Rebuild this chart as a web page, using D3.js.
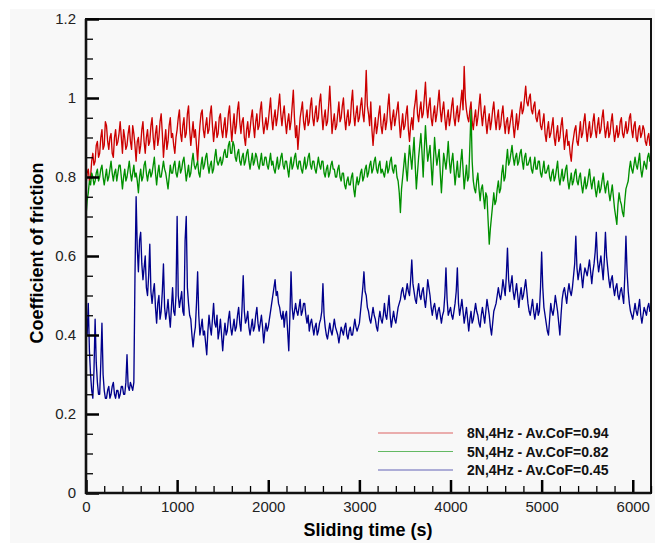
<!DOCTYPE html>
<html lang="en">
<head>
    <meta charset="UTF-8">
    <title>Coefficient of friction vs sliding time</title>
    <script src="https://d3js.org/d3.v7.min.js"></script>
    <style>
        body {
            margin: 0;
            padding: 0;
            background: #ffffff;
        }
        svg text {
            font-family: "Liberation Sans", Arial, sans-serif;
        }
    </style>
</head>
<body>
<svg id="chart" width="655" height="543"></svg>

<script>
    // test length (s); samples are evenly spaced over it
    var testDuration = 6200;

    // 8N, 4Hz
    var cofRed = [
        0.78, 0.81, 0.82, 0.79, 0.80, 0.84, 0.86, 0.83, 0.84, 0.88, 0.89, 0.85, 0.86, 0.90, 0.92, 0.87, 0.88, 0.94, 0.93, 0.89,
        0.87, 0.90, 0.91, 0.86, 0.85, 0.90, 0.92, 0.88, 0.89, 0.91, 0.94, 0.90, 0.86, 0.92, 0.90, 0.87, 0.88, 0.91, 0.93, 0.89,
        0.87, 0.93, 0.91, 0.88, 0.84, 0.89, 0.90, 0.86, 0.88, 0.92, 0.94, 0.89, 0.86, 0.90, 0.92, 0.88, 0.89, 0.93, 0.95, 0.90,
        0.87, 0.91, 0.93, 0.88, 0.90, 0.94, 0.96, 0.91, 0.85, 0.89, 0.92, 0.87, 0.89, 0.93, 0.95, 0.90, 0.91, 0.88, 0.86, 0.90,
        0.92, 0.95, 0.97, 0.91, 0.89, 0.93, 0.95, 0.90, 0.91, 0.96, 0.98, 0.92, 0.88, 0.91, 0.94, 0.90, 0.92, 0.88, 0.84, 0.89,
        0.93, 0.96, 0.97, 0.92, 0.90, 0.93, 0.95, 0.91, 0.92, 0.96, 0.98, 0.93, 0.89, 0.92, 0.94, 0.90, 0.91, 0.95, 0.96, 0.92,
        0.90, 0.93, 0.95, 0.90, 0.92, 0.96, 0.98, 0.93, 0.89, 0.93, 0.96, 0.91, 0.93, 0.97, 0.99, 0.94, 0.91, 0.94, 0.95, 0.90,
        0.88, 0.92, 0.94, 0.90, 0.92, 0.95, 0.97, 0.93, 0.90, 0.94, 0.96, 0.92, 0.93, 0.97, 0.99, 0.94, 0.91, 0.93, 0.95, 0.92,
        0.94, 0.97, 1.00, 0.95, 0.92, 0.95, 0.97, 0.93, 0.95, 0.98, 1.01, 0.96, 0.93, 0.96, 0.98, 0.94, 0.91, 0.94, 0.96, 0.92,
        0.94, 0.98, 1.02, 0.95, 0.90, 0.93, 0.87, 0.91, 0.95, 0.97, 0.99, 0.94, 0.92, 0.95, 0.97, 0.93, 0.94, 0.98, 1.00, 0.95,
        0.93, 0.96, 0.98, 0.94, 0.95, 0.99, 1.01, 0.96, 0.92, 0.95, 0.97, 0.93, 0.94, 0.98, 1.03, 0.97, 0.91, 0.94, 0.96, 0.92,
        0.93, 0.96, 0.99, 0.94, 0.95, 0.98, 1.00, 0.95, 0.92, 0.95, 0.97, 0.93, 0.94, 0.99, 1.02, 0.96, 0.93, 0.96, 0.98, 0.94,
        0.95, 0.98, 1.00, 0.96, 0.94, 0.99, 1.07, 0.98, 0.96, 0.93, 0.99, 0.92, 0.88, 0.92, 0.95, 0.91, 0.93, 0.96, 0.98, 0.93,
        0.91, 0.94, 0.96, 0.92, 0.94, 0.98, 1.01, 0.95, 0.92, 0.95, 0.97, 0.93, 0.95, 0.97, 0.99, 0.94, 0.90, 0.93, 0.96, 0.92,
        0.93, 0.96, 0.98, 0.92, 0.89, 0.93, 0.95, 0.92, 0.97, 0.99, 1.02, 0.96, 0.94, 0.97, 0.99, 0.95, 0.96, 1.00, 1.04, 0.98,
        0.95, 0.98, 1.00, 0.95, 0.93, 0.96, 0.98, 0.94, 0.96, 0.99, 1.02, 0.97, 0.94, 0.97, 0.99, 0.95, 0.92, 0.95, 0.97, 0.93,
        0.95, 0.98, 1.00, 0.95, 0.93, 0.96, 0.98, 0.94, 0.96, 0.99, 1.02, 0.97, 1.08, 1.00, 0.97, 0.95, 0.94, 0.97, 0.99, 0.94,
        0.92, 0.95, 0.97, 0.93, 0.95, 0.98, 1.01, 0.96, 0.93, 0.96, 0.98, 0.94, 0.91, 0.94, 0.96, 0.92, 0.94, 0.97, 0.99, 0.95,
        0.92, 0.95, 0.97, 0.92, 0.93, 0.96, 0.98, 0.94, 0.91, 0.94, 0.95, 0.91, 0.93, 0.95, 0.97, 0.93, 0.90, 0.93, 0.96, 0.92,
        0.94, 0.97, 0.99, 0.96, 0.97, 1.00, 1.03, 0.99, 0.98, 1.00, 1.01, 0.97, 0.96, 0.98, 0.99, 0.95, 0.94, 0.96, 0.97, 0.93,
        0.92, 0.94, 0.96, 0.91, 0.89, 0.92, 0.94, 0.90, 0.91, 0.93, 0.95, 0.90, 0.88, 0.91, 0.93, 0.89, 0.90, 0.93, 0.95, 0.91,
        0.87, 0.90, 0.92, 0.88, 0.89, 0.86, 0.84, 0.88, 0.90, 0.92, 0.93, 0.89, 0.88, 0.91, 0.94, 0.90, 0.91, 0.94, 0.96, 0.92,
        0.89, 0.92, 0.94, 0.90, 0.91, 0.94, 0.96, 0.92, 0.90, 0.93, 0.95, 0.91, 0.92, 0.95, 0.97, 0.93, 0.90, 0.92, 0.94, 0.90,
        0.91, 0.94, 0.96, 0.92, 0.89, 0.91, 0.93, 0.90, 0.91, 0.94, 0.95, 0.91, 0.90, 0.92, 0.94, 0.91, 0.92, 0.95, 0.96, 0.92,
        0.90, 0.93, 0.94, 0.90, 0.89, 0.92, 0.93, 0.90, 0.91, 0.93, 0.92, 0.89, 0.88, 0.90, 0.91, 0.88, 0.90
    ];

    // 5N, 4Hz
    var cofGreen = [
        0.70, 0.74, 0.76, 0.79, 0.78, 0.81, 0.80, 0.78, 0.79, 0.81, 0.82, 0.79, 0.80, 0.82, 0.83, 0.80, 0.78, 0.80, 0.82, 0.79,
        0.80, 0.82, 0.84, 0.81, 0.79, 0.81, 0.82, 0.79, 0.81, 0.83, 0.83, 0.80, 0.77, 0.80, 0.82, 0.79, 0.80, 0.82, 0.84, 0.81,
        0.79, 0.81, 0.83, 0.80, 0.81, 0.79, 0.76, 0.80, 0.82, 0.79, 0.80, 0.83, 0.84, 0.81, 0.79, 0.81, 0.82, 0.80, 0.81, 0.83,
        0.85, 0.81, 0.78, 0.81, 0.83, 0.80, 0.80, 0.82, 0.84, 0.82, 0.81, 0.79, 0.77, 0.80, 0.83, 0.81, 0.81, 0.83, 0.84, 0.81,
        0.80, 0.82, 0.84, 0.81, 0.82, 0.84, 0.85, 0.82, 0.79, 0.81, 0.83, 0.80, 0.81, 0.84, 0.86, 0.83, 0.82, 0.83, 0.84, 0.81,
        0.80, 0.83, 0.85, 0.82, 0.83, 0.85, 0.86, 0.83, 0.81, 0.83, 0.84, 0.81, 0.82, 0.85, 0.87, 0.84, 0.83, 0.84, 0.85, 0.83,
        0.84, 0.86, 0.87, 0.85, 0.85, 0.88, 0.89, 0.86, 0.86, 0.89, 0.88, 0.85, 0.84, 0.86, 0.87, 0.84, 0.83, 0.85, 0.86, 0.83,
        0.84, 0.86, 0.87, 0.84, 0.82, 0.84, 0.86, 0.83, 0.84, 0.86, 0.85, 0.83, 0.82, 0.84, 0.86, 0.83, 0.83, 0.85, 0.85, 0.83,
        0.82, 0.84, 0.86, 0.83, 0.84, 0.82, 0.81, 0.83, 0.85, 0.82, 0.83, 0.85, 0.86, 0.83, 0.82, 0.84, 0.84, 0.82, 0.80, 0.83,
        0.85, 0.82, 0.83, 0.85, 0.86, 0.83, 0.82, 0.84, 0.84, 0.82, 0.81, 0.83, 0.85, 0.82, 0.83, 0.85, 0.86, 0.83, 0.82, 0.84,
        0.84, 0.82, 0.81, 0.83, 0.85, 0.83, 0.82, 0.84, 0.84, 0.81, 0.80, 0.82, 0.83, 0.80, 0.81, 0.83, 0.84, 0.82, 0.82, 0.80,
        0.80, 0.82, 0.83, 0.80, 0.79, 0.81, 0.81, 0.78, 0.77, 0.79, 0.80, 0.78, 0.78, 0.80, 0.81, 0.77, 0.75, 0.78, 0.80, 0.78,
        0.79, 0.81, 0.82, 0.79, 0.80, 0.82, 0.83, 0.80, 0.81, 0.83, 0.84, 0.81, 0.82, 0.84, 0.85, 0.82, 0.81, 0.83, 0.84, 0.81,
        0.82, 0.81, 0.80, 0.82, 0.84, 0.81, 0.82, 0.84, 0.85, 0.82, 0.81, 0.83, 0.83, 0.80, 0.79, 0.76, 0.71, 0.77, 0.80, 0.83,
        0.86, 0.82, 0.79, 0.84, 0.88, 0.85, 0.82, 0.86, 0.90, 0.83, 0.77, 0.81, 0.85, 0.88, 0.91, 0.86, 0.80, 0.87, 0.93, 0.88,
        0.84, 0.86, 0.88, 0.83, 0.78, 0.84, 0.90, 0.86, 0.83, 0.85, 0.87, 0.81, 0.76, 0.81, 0.86, 0.84, 0.82, 0.85, 0.89, 0.84,
        0.81, 0.84, 0.86, 0.82, 0.78, 0.81, 0.84, 0.80, 0.80, 0.84, 0.87, 0.82, 0.77, 0.80, 0.83, 0.79, 0.80, 0.88, 0.97, 0.84,
        0.79, 0.77, 0.76, 0.79, 0.81, 0.77, 0.74, 0.77, 0.78, 0.75, 0.72, 0.76, 0.75, 0.69, 0.63, 0.67, 0.70, 0.73, 0.76, 0.73,
        0.74, 0.77, 0.79, 0.76, 0.77, 0.81, 0.83, 0.79, 0.80, 0.84, 0.87, 0.83, 0.84, 0.86, 0.88, 0.85, 0.83, 0.85, 0.86, 0.83,
        0.84, 0.86, 0.87, 0.84, 0.82, 0.85, 0.86, 0.83, 0.83, 0.84, 0.85, 0.82, 0.81, 0.83, 0.85, 0.82, 0.82, 0.84, 0.84, 0.81,
        0.80, 0.82, 0.84, 0.81, 0.81, 0.82, 0.83, 0.80, 0.79, 0.81, 0.82, 0.79, 0.80, 0.82, 0.84, 0.80, 0.78, 0.80, 0.82, 0.79,
        0.80, 0.82, 0.83, 0.79, 0.77, 0.79, 0.81, 0.78, 0.79, 0.81, 0.82, 0.79, 0.78, 0.80, 0.81, 0.78, 0.76, 0.78, 0.80, 0.77,
        0.78, 0.80, 0.82, 0.79, 0.77, 0.79, 0.80, 0.77, 0.75, 0.77, 0.79, 0.76, 0.77, 0.79, 0.81, 0.78, 0.76, 0.78, 0.79, 0.76,
        0.74, 0.76, 0.78, 0.75, 0.72, 0.70, 0.68, 0.73, 0.76, 0.74, 0.73, 0.71, 0.70, 0.74, 0.77, 0.78, 0.79, 0.82, 0.84, 0.82,
        0.81, 0.83, 0.85, 0.83, 0.82, 0.84, 0.86, 0.82, 0.80, 0.82, 0.84, 0.83, 0.82, 0.85, 0.86, 0.84, 0.85
    ];

    // 2N, 4Hz
    var cofBlue = [
        0.45, 0.40, 0.48, 0.36, 0.30, 0.26, 0.24, 0.31, 0.44, 0.33, 0.28, 0.25, 0.25, 0.33, 0.43, 0.30, 0.26, 0.24, 0.24, 0.26,
        0.27, 0.24, 0.25, 0.27, 0.28, 0.25, 0.24, 0.26, 0.26, 0.24, 0.25, 0.27, 0.27, 0.25, 0.25, 0.28, 0.35, 0.27, 0.26, 0.28,
        0.27, 0.26, 0.28, 0.55, 0.75, 0.62, 0.56, 0.64, 0.66, 0.58, 0.54, 0.57, 0.60, 0.52, 0.50, 0.55, 0.63, 0.51, 0.48, 0.51,
        0.53, 0.47, 0.43, 0.48, 0.50, 0.44, 0.46, 0.51, 0.58, 0.47, 0.44, 0.46, 0.49, 0.45, 0.42, 0.47, 0.52, 0.46, 0.45, 0.50,
        0.70, 0.50, 0.47, 0.49, 0.51, 0.46, 0.45, 0.64, 0.70, 0.52, 0.48, 0.45, 0.44, 0.40, 0.37, 0.40, 0.42, 0.48, 0.56, 0.45,
        0.40, 0.42, 0.44, 0.40, 0.41, 0.38, 0.35, 0.41, 0.45, 0.42, 0.40, 0.44, 0.48, 0.43, 0.42, 0.45, 0.39, 0.41, 0.44, 0.40,
        0.36, 0.40, 0.43, 0.40, 0.41, 0.44, 0.46, 0.42, 0.40, 0.42, 0.44, 0.41, 0.42, 0.45, 0.47, 0.43, 0.41, 0.47, 0.55, 0.46,
        0.43, 0.44, 0.46, 0.42, 0.40, 0.42, 0.44, 0.41, 0.42, 0.45, 0.47, 0.43, 0.41, 0.43, 0.45, 0.42, 0.38, 0.41, 0.43, 0.41,
        0.42, 0.44, 0.46, 0.48, 0.50, 0.52, 0.54, 0.50, 0.51, 0.48, 0.47, 0.45, 0.44, 0.46, 0.42, 0.45, 0.46, 0.41, 0.36, 0.45,
        0.56, 0.47, 0.44, 0.46, 0.48, 0.46, 0.45, 0.47, 0.49, 0.45, 0.46, 0.48, 0.48, 0.45, 0.43, 0.45, 0.41, 0.43, 0.44, 0.42,
        0.40, 0.42, 0.43, 0.40, 0.41, 0.43, 0.44, 0.46, 0.53, 0.45, 0.42, 0.40, 0.39, 0.41, 0.43, 0.41, 0.40, 0.42, 0.44, 0.42,
        0.41, 0.40, 0.38, 0.40, 0.42, 0.41, 0.40, 0.42, 0.43, 0.40, 0.39, 0.41, 0.42, 0.40, 0.40, 0.42, 0.44, 0.42, 0.41, 0.42,
        0.43, 0.46, 0.49, 0.52, 0.56, 0.51, 0.50, 0.47, 0.46, 0.44, 0.43, 0.45, 0.47, 0.45, 0.44, 0.42, 0.41, 0.44, 0.46, 0.44,
        0.43, 0.45, 0.48, 0.45, 0.44, 0.47, 0.50, 0.45, 0.42, 0.44, 0.46, 0.44, 0.43, 0.45, 0.47, 0.48, 0.49, 0.51, 0.52, 0.50,
        0.49, 0.51, 0.53, 0.51, 0.50, 0.54, 0.59, 0.53, 0.51, 0.49, 0.48, 0.51, 0.53, 0.50, 0.49, 0.51, 0.52, 0.49, 0.47, 0.50,
        0.54, 0.52, 0.50, 0.47, 0.45, 0.47, 0.48, 0.46, 0.44, 0.46, 0.47, 0.45, 0.43, 0.45, 0.46, 0.50, 0.57, 0.49, 0.45, 0.46,
        0.47, 0.45, 0.44, 0.46, 0.48, 0.51, 0.57, 0.48, 0.45, 0.47, 0.49, 0.46, 0.43, 0.45, 0.47, 0.44, 0.41, 0.44, 0.46, 0.43,
        0.44, 0.46, 0.48, 0.46, 0.45, 0.43, 0.42, 0.45, 0.47, 0.45, 0.43, 0.46, 0.49, 0.47, 0.45, 0.42, 0.40, 0.43, 0.46, 0.47,
        0.48, 0.50, 0.52, 0.50, 0.49, 0.51, 0.54, 0.52, 0.50, 0.55, 0.62, 0.54, 0.51, 0.53, 0.55, 0.51, 0.49, 0.51, 0.53, 0.50,
        0.47, 0.50, 0.52, 0.49, 0.50, 0.52, 0.54, 0.51, 0.48, 0.46, 0.45, 0.47, 0.49, 0.46, 0.44, 0.46, 0.48, 0.45, 0.46, 0.52,
        0.61, 0.52, 0.47, 0.45, 0.43, 0.41, 0.40, 0.44, 0.48, 0.46, 0.45, 0.47, 0.50, 0.48, 0.46, 0.43, 0.40, 0.45, 0.49, 0.51,
        0.52, 0.50, 0.48, 0.51, 0.53, 0.51, 0.50, 0.52, 0.55, 0.58, 0.65, 0.57, 0.54, 0.56, 0.58, 0.55, 0.52, 0.55, 0.57, 0.56,
        0.55, 0.57, 0.59, 0.56, 0.53, 0.56, 0.58, 0.61, 0.66, 0.59, 0.56, 0.58, 0.60, 0.57, 0.54, 0.59, 0.66, 0.60, 0.57, 0.54,
        0.52, 0.54, 0.55, 0.52, 0.50, 0.52, 0.53, 0.50, 0.49, 0.51, 0.52, 0.50, 0.48, 0.55, 0.65, 0.56, 0.51, 0.48, 0.46, 0.45,
        0.44, 0.46, 0.48, 0.46, 0.45, 0.47, 0.49, 0.45, 0.43, 0.45, 0.47, 0.46, 0.45, 0.47, 0.48, 0.46, 0.47
    ];

    var seriesNames = ["8N,4Hz - Av.CoF=0.94", "5N,4Hz - Av.CoF=0.82", "2N,4Hz - Av.CoF=0.45"];
    var seriesColors = ["#cc0000", "#009000", "#00008c"];
    var xTicks = [0, 1000, 2000, 3000, 4000, 5000, 6000];
    var yTicks = [0, 0.2, 0.4, 0.6, 0.8, 1, 1.2];

    var svg = d3.select("#chart");

    // light grey figure panel
    svg.append("rect")
        .attr("x", 10).attr("y", 9)
        .attr("width", 645).attr("height", 534)
        .attr("fill", "#f8f8f8");

    var x = d3.scaleLinear().domain([0, testDuration]).range([86, 651]);
    var y = d3.scaleLinear().domain([0, 1.2]).range([493, 19]);

    // data lines
    [cofRed, cofGreen, cofBlue].forEach(function(s, k) {
        var step = testDuration / (s.length - 1);
        var line = d3.line()
            .x(function(d, i) { return x(i * step); })
            .y(function(d) { return y(d); });
        svg.append("path")
            .datum(s)
            .attr("fill", "none")
            .attr("stroke", seriesColors[k])
            .attr("stroke-width", 1.35)
            .attr("stroke-linejoin", "round")
            .attr("d", line);
    });

    // frame
    svg.append("rect")
        .attr("x", 86).attr("y", 19)
        .attr("width", 565).attr("height", 474)
        .attr("fill", "none")
        .attr("stroke", "#111")
        .attr("stroke-width", 2);

    // minor ticks (inward)
    var xMinor = d3.range(0, 6201, 200).filter(function(v) { return v % 1000 !== 0; });
    var yMinor = d3.range(0, 24).map(function(i) { return i * 0.05; }).filter(function(v, i) { return i % 4 !== 0; });

    svg.append("g")
        .attr("transform", "translate(0,493)")
        .call(d3.axisBottom(x).tickValues(xMinor).tickSize(-7).tickFormat(""))
        .call(function(g) { g.select(".domain").remove(); })
        .selectAll("line").attr("stroke-width", 1.3);

    svg.append("g")
        .attr("transform", "translate(86,0)")
        .call(d3.axisLeft(y).tickValues(yMinor).tickSize(-7).tickFormat(""))
        .call(function(g) { g.select(".domain").remove(); })
        .selectAll("line").attr("stroke-width", 1.3);

    // major ticks + labels
    var xAxis = svg.append("g")
        .attr("transform", "translate(0,493)")
        .call(d3.axisBottom(x).tickValues(xTicks).tickSize(-13).tickPadding(8).tickFormat(d3.format("d")));
    xAxis.select(".domain").remove();
    xAxis.selectAll("line").attr("stroke-width", 2.5);
    xAxis.selectAll("text").attr("font-size", 15).attr("fill", "#222");

    var yAxis = svg.append("g")
        .attr("transform", "translate(86,0)")
        .call(d3.axisLeft(y).tickValues(yTicks).tickSize(-13).tickPadding(10).tickFormat(function(d) { return d3.format("")(+d.toFixed(1)); }));
    yAxis.select(".domain").remove();
    yAxis.selectAll("line").attr("stroke-width", 2.5);
    yAxis.selectAll("text").attr("font-size", 15).attr("fill", "#222");

    // left and bottom axis lines a bit heavier
    svg.append("line").attr("x1", 86).attr("x2", 86).attr("y1", 19).attr("y2", 494)
        .attr("stroke", "#111").attr("stroke-width", 2.6);
    svg.append("line").attr("x1", 85).attr("x2", 651).attr("y1", 493).attr("y2", 493)
        .attr("stroke", "#111").attr("stroke-width", 2.6);

    // axis titles
    svg.append("text")
        .attr("x", 368).attr("y", 536)
        .attr("text-anchor", "middle")
        .attr("font-size", 18).attr("font-weight", "bold")
        .text("Sliding time (s)");

    svg.append("text")
        .attr("transform", "translate(43,253) rotate(-90)")
        .attr("text-anchor", "middle")
        .attr("font-size", 18).attr("font-weight", "bold")
        .text("Coefficient of friction");

    // legend
    var legend = svg.append("g");
    seriesNames.forEach(function(name, i) {
        var ly = 433 + i * 18.5;
        legend.append("line")
            .attr("x1", 378).attr("x2", 453)
            .attr("y1", ly).attr("y2", ly)
            .attr("stroke", seriesColors[i])
            .attr("stroke-opacity", 0.6)
            .attr("stroke-width", 1.2);
        legend.append("text")
            .attr("x", 467).attr("y", ly + 5)
            .attr("font-size", 14).attr("font-weight", "bold")
            .attr("fill", "#111")
            .text(name);
    });
</script>
</body>
</html>
